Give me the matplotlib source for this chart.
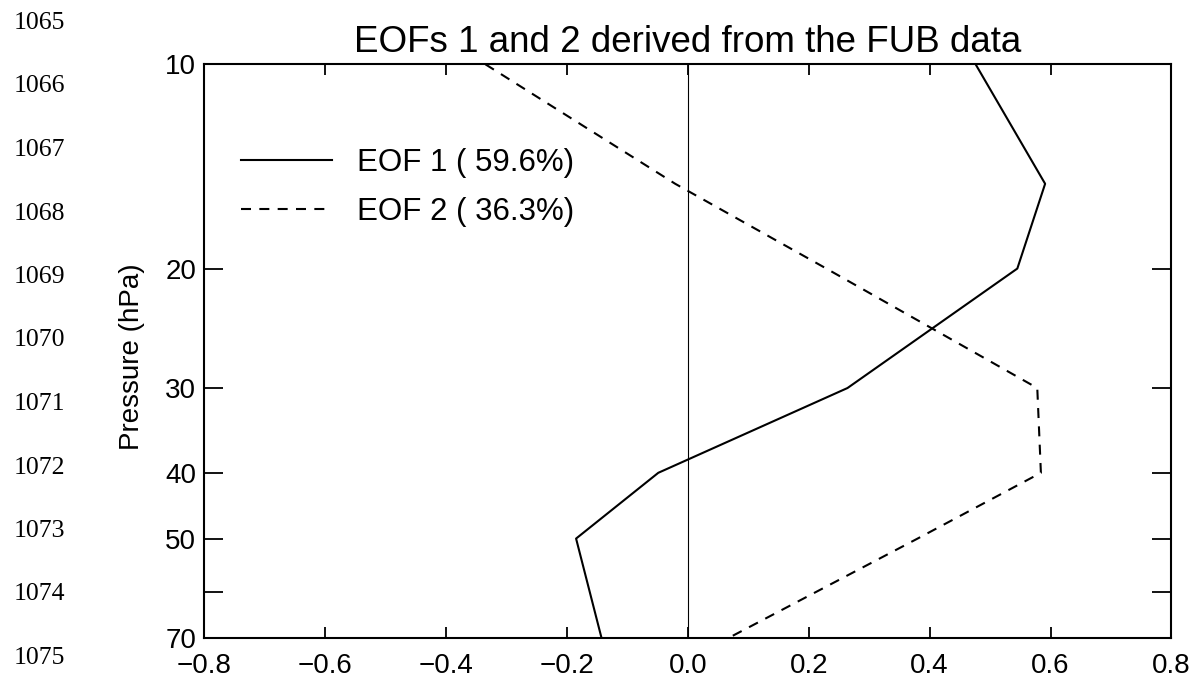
import numpy as np
import matplotlib
matplotlib.use('Agg')
import matplotlib.pyplot as plt
from matplotlib.ticker import FixedLocator, FixedFormatter, NullLocator

# Pressure levels (hPa) and EOF loadings
pressure = [10, 15, 20, 30, 40, 50, 70]
eof1 = [0.476, 0.591, 0.545, 0.264, -0.049, -0.185, -0.143]
eof2 = [-0.335, -0.021, 0.229, 0.578, 0.584, 0.380, 0.068]
eof1_var = 59.6
eof2_var = 36.3

y_ticks = [10, 20, 30, 40, 50, 60, 70]
y_labels = ['10', '20', '30', '40', '50', '', '70']
x_ticks = [-0.8, -0.6, -0.4, -0.2, 0.0, 0.2, 0.4, 0.6, 0.8]
x_labels = ['\u22120.8', '\u22120.6', '\u22120.4', '\u22120.2', '0.0', '0.2', '0.4', '0.6', '0.8']

# manuscript line numbers down the left margin
line_numbers = [1065, 1066, 1067, 1068, 1069, 1070, 1071, 1072, 1073, 1074, 1075]

plt.rcParams['font.family'] = ['Liberation Sans', 'DejaVu Sans']

fig = plt.figure(figsize=(11.95, 6.79), dpi=100)
ax = fig.add_axes([0.171, 0.0608, 0.8093, 0.8445])

ax.axvline(0.0, color='black', lw=0.8)
ax.plot(eof1, pressure, color='black', lw=1.5,
        label=f'EOF 1 ( {eof1_var:.1f}%)')
ax.plot(eof2, pressure, color='black', lw=1.5, linestyle=(0, (4.8, 4)),
        label=f'EOF 2 ( {eof2_var:.1f}%)')

ax.set_yscale('log')
ax.set_ylim(70, 10)
ax.set_xlim(-0.8, 0.8)

ax.yaxis.set_major_locator(FixedLocator(y_ticks))
ax.yaxis.set_major_formatter(FixedFormatter(y_labels))
ax.yaxis.set_minor_locator(NullLocator())
ax.set_xticks(x_ticks)
ax.set_xticklabels(x_labels)

ax.tick_params(axis='y', which='major', direction='in', length=13.5, width=1.3,
               left=True, right=True, labelsize=20, pad=6)
ax.tick_params(axis='x', which='major', direction='in', length=8, width=1.3,
               top=True, bottom=True, labelsize=20, pad=11)
for s in ax.spines.values():
    s.set_linewidth(1.5)

ax.set_ylabel('Pressure (hPa)', fontsize=20)
ax.yaxis.set_label_coords(-0.061, 0.49)
ax.set_title('EOFs 1 and 2 derived from the FUB data', fontsize=26.5, pad=9)

ax.legend(loc='upper left', bbox_to_anchor=(0.009, 0.903), frameon=False,
          fontsize=22.5, handlelength=2.9, handletextpad=0.8, labelspacing=0.6)

top_px, step_px = 23, 63.5
for i, n in enumerate(line_numbers):
    fig.text(14 / 1195, 1 - (top_px + i * step_px) / 679, str(n),
             family='Liberation Serif', fontsize=18.5, va='center', ha='left')

fig.savefig('out.png', dpi=100)
